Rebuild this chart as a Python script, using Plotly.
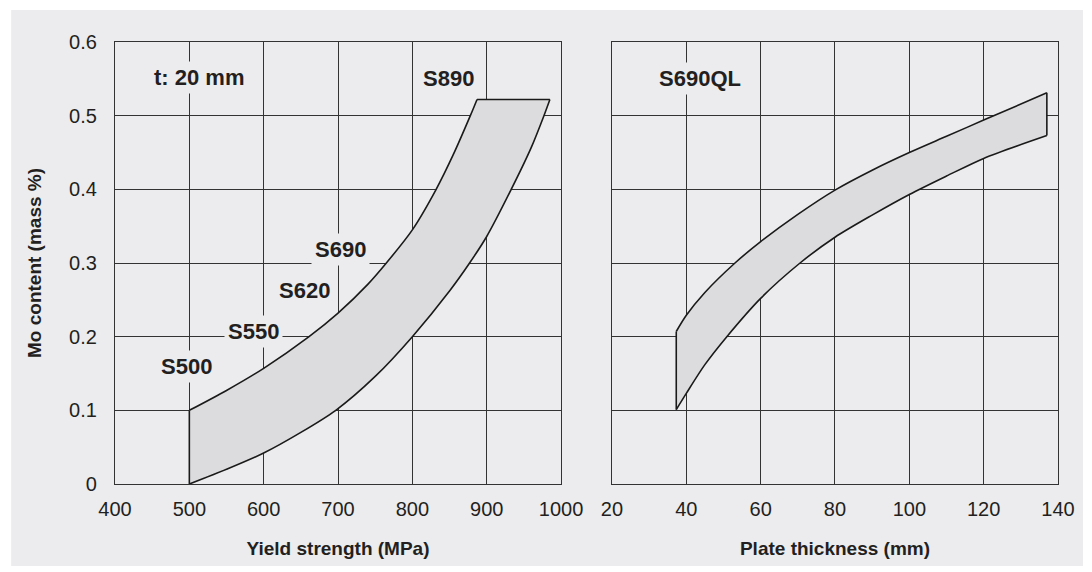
import plotly.graph_objects as go

# ---- data ----
# Left panel: Mo content vs yield strength (t: 20 mm)
ys_upper_x = [500, 550, 600, 661, 700, 740, 765, 800, 832, 855, 878, 887]
ys_upper_y = [0.100, 0.127, 0.157, 0.200, 0.232, 0.271, 0.300, 0.345, 0.400, 0.447, 0.500, 0.522]
ys_lower_x = [500, 550, 600, 650, 697, 750, 800, 850, 877, 900, 933, 960, 977, 985]
ys_lower_y = [0.000, 0.020, 0.042, 0.070, 0.100, 0.146, 0.200, 0.262, 0.300, 0.336, 0.400, 0.457, 0.500, 0.522]

# Right panel: Mo content vs plate thickness (S690QL)
pt_upper_x = [37.3, 40, 45, 53.1, 60, 70, 80, 90, 100, 110, 120, 137]
pt_upper_y = [0.207, 0.229, 0.260, 0.300, 0.329, 0.366, 0.399, 0.426, 0.450, 0.472, 0.494, 0.531]
pt_lower_x = [37.3, 40, 45, 50.9, 60, 70.6, 80, 90, 100, 110, 120, 137]
pt_lower_y = [0.101, 0.123, 0.162, 0.200, 0.252, 0.300, 0.335, 0.365, 0.393, 0.418, 0.442, 0.473]

grade_labels = ["S500", "S550", "S620", "S690", "S890"]
grade_x = [496.5, 586, 655, 704, 848]
grade_y = [0.159, 0.207, 0.262, 0.319, 0.551]

x1_ticks = [400, 500, 600, 700, 800, 900, 1000]
x2_ticks = [20, 40, 60, 80, 100, 120, 140]
y_ticks = [0, 0.1, 0.2, 0.3, 0.4, 0.5, 0.6]
y_ticklabels = ["0", "0.1", "0.2", "0.3", "0.4", "0.5", "0.6"]

PANEL = "#ececee"
FILL = "#dcdcde"
INK = "#231f20"
GRID = "#333333"
LINE = "#1a1a1a"
FONT = "Liberation Sans, Arial, sans-serif"

fig = go.Figure()

def add_band(ux, uy, lx, ly, xa, ya):
    fig.add_trace(go.Scatter(x=lx, y=ly, mode="lines", line=dict(color=LINE, width=1.6, shape="spline", smoothing=0.8),
                             xaxis=xa, yaxis=ya, hoverinfo="skip", showlegend=False))
    fig.add_trace(go.Scatter(x=ux, y=uy, mode="lines", fill="tonexty", fillcolor=FILL,
                             line=dict(color=LINE, width=1.6, shape="spline", smoothing=0.8),
                             xaxis=xa, yaxis=ya, hoverinfo="skip", showlegend=False))
    # straight end edges
    fig.add_trace(go.Scatter(x=[lx[0], ux[0]], y=[ly[0], uy[0]], mode="lines",
                             line=dict(color=LINE, width=1.6), xaxis=xa, yaxis=ya,
                             hoverinfo="skip", showlegend=False))
    fig.add_trace(go.Scatter(x=[ux[-1], lx[-1]], y=[uy[-1], ly[-1]], mode="lines",
                             line=dict(color=LINE, width=1.6), xaxis=xa, yaxis=ya,
                             hoverinfo="skip", showlegend=False))

add_band(ys_upper_x, ys_upper_y, ys_lower_x, ys_lower_y, "x", "y")
add_band(pt_upper_x, pt_upper_y, pt_lower_x, pt_lower_y, "x2", "y2")

axis_common = dict(showgrid=True, gridcolor=GRID, gridwidth=1, zeroline=False,
                   showline=True, linecolor=GRID, linewidth=1.2, mirror=True,
                   ticks="", tickfont=dict(family=FONT, size=20, color=INK))
title_font = dict(family=FONT, size=19, color=INK, weight="bold")

fig.update_layout(
    width=1092, height=572,
    margin=dict(l=115, r=32, t=42, b=88),
    paper_bgcolor="white", plot_bgcolor=PANEL,
    showlegend=False,
    xaxis=dict(domain=[0, 0.473], range=[400, 1000], tickvals=x1_ticks,
               title=dict(text="Yield strength (MPa)", standoff=22, font=title_font),
               anchor="y", ticklabelstandoff=7, **axis_common),
    yaxis=dict(domain=[0, 1], range=[0, 0.6], tickvals=y_ticks, ticktext=y_ticklabels,
               title=dict(text="Mo content (mass %)", standoff=22, font=title_font),
               anchor="x", ticklabelstandoff=13, **axis_common),
    xaxis2=dict(domain=[0.527, 1], range=[20, 140], tickvals=x2_ticks,
                title=dict(text="Plate thickness (mm)", standoff=22, font=title_font),
                anchor="y2", ticklabelstandoff=7, **axis_common),
    yaxis2=dict(domain=[0, 1], range=[0, 0.6], tickvals=y_ticks, showticklabels=False,
                anchor="x2", **axis_common),
)

fig.add_shape(type="rect", xref="paper", yref="paper",
              x0=-0.1101, x1=1.0265, y0=-0.1855, y1=1.0724,
              fillcolor=PANEL, line=dict(width=0), layer="below")

ann_font = dict(family=FONT, size=22, color=INK, weight="bold")
for t, x, y in zip(grade_labels, grade_x, grade_y):
    fig.add_annotation(x=x, y=y, xref="x", yref="y", text=t, showarrow=False,
                       font=ann_font, bgcolor=PANEL, borderpad=3)
fig.add_annotation(x=513, y=0.552, xref="x", yref="y", text="t: 20 mm", showarrow=False,
                   font=ann_font, bgcolor=PANEL, borderpad=3)
fig.add_annotation(x=43.8, y=0.551, xref="x2", yref="y2", text="S690QL", showarrow=False,
                   font=ann_font, bgcolor=PANEL, borderpad=3)

fig.write_html("out.html")
